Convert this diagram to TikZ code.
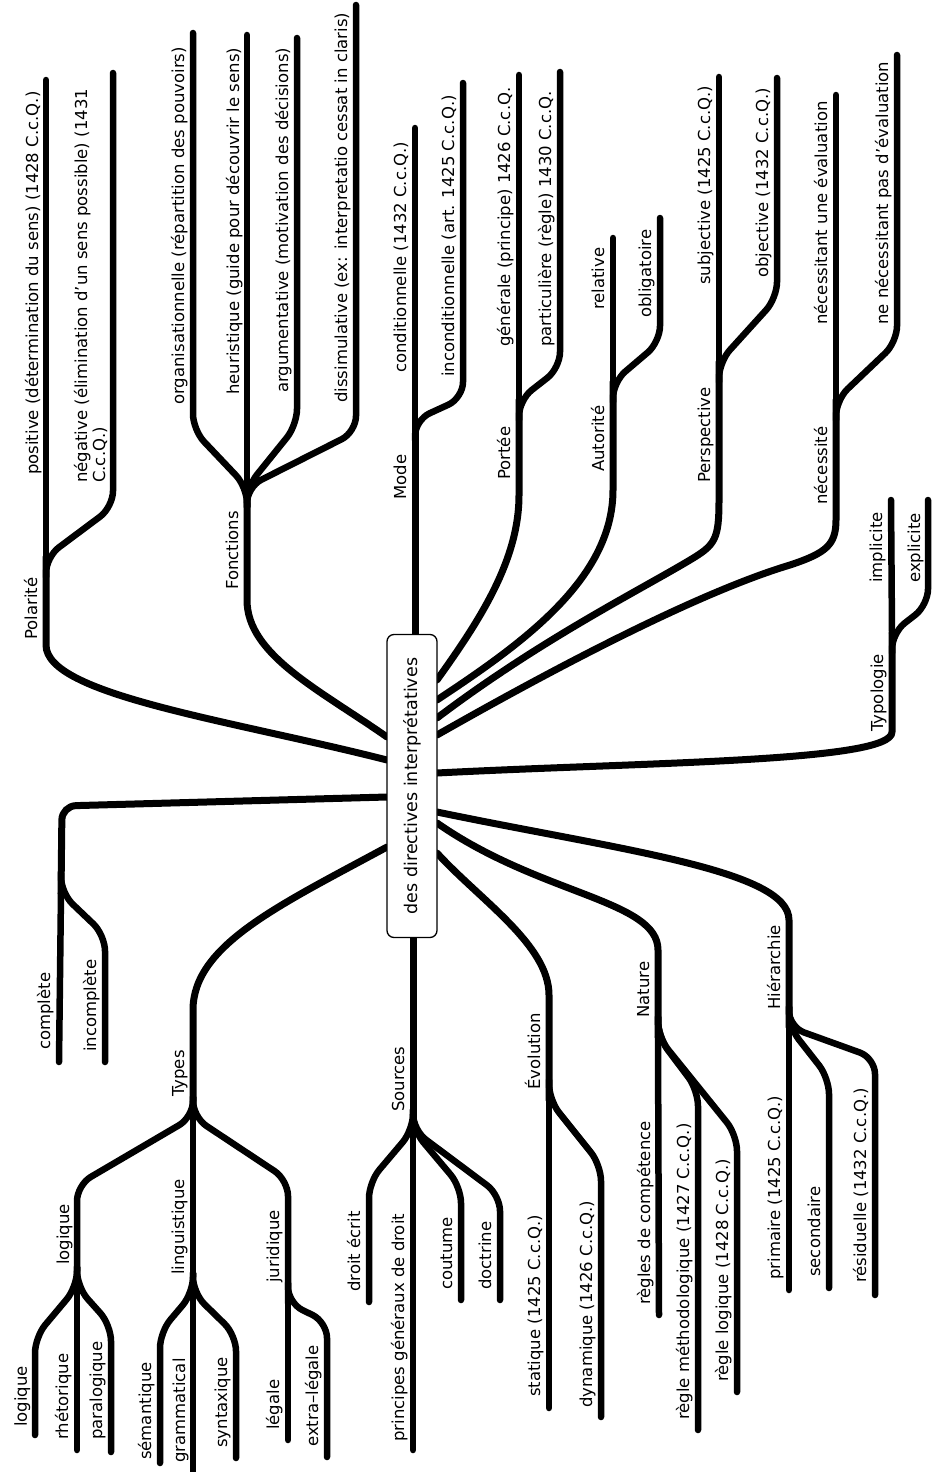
\documentclass[tikz,border=0pt]{standalone}
\usepackage{fontspec}
\setmainfont{DejaVu Sans}
\newcommand{\lblfont}{\fontsize{16.5}{19}\selectfont}
\newcommand{\ctrfont}{\fontsize{17.5}{20}\selectfont}
\begin{document}
\begin{tikzpicture}[x=1pt,y=-1pt,
  br/.style={line width=6.5pt, line cap=round, line join=round, rounded corners=16pt},
  mainbr/.style={line width=7pt, line cap=round, line join=round},
  lab/.style={rotate=90, anchor=base west, inner sep=0pt, font=\lblfont},
  ctr/.style={rotate=90, draw, line width=1.3pt, rounded corners=7pt, fill=white,
    minimum width=303pt, minimum height=50pt, inner sep=0pt, font=\ctrfont}]
\useasboundingbox (0,0) rectangle (933,1472);

% attachment points on the central box
\coordinate (aPol) at (387,760);
\coordinate (aFon) at (387,737);
\coordinate (aMod) at (415,637);
\coordinate (aPor) at (437,680);
\coordinate (aAut) at (437,700);
\coordinate (aPer) at (437,718);
\coordinate (aNec) at (437,735);
\coordinate (aTyp) at (437,773);
\coordinate (aCom) at (387,797);
\coordinate (aTps) at (387,847);
\coordinate (aSrc) at (413,936);
\coordinate (aEvo) at (437,853);
\coordinate (aNat) at (437,823);
\coordinate (aHie) at (437,812);

% branch points
\coordinate (bPol) at (46,557);
\coordinate (bFon) at (247,487);
\coordinate (bMod) at (415,420);
\coordinate (bPor) at (519,400);
\coordinate (bAut) at (613,382);
\coordinate (bPer) at (719,362);
\coordinate (bNec) at (836,400);
\coordinate (bTy) at (892,633);
\coordinate (bCom) at (61,893);
\coordinate (bTps) at (193,1117);
\coordinate (bLog) at (77,1287);
\coordinate (bLin) at (193,1293);
\coordinate (bJur) at (288,1303);
\coordinate (bSrc) at (413,1130);
\coordinate (bEvo) at (549,1100);
\coordinate (bNat) at (658,1037);
\coordinate (bHie) at (789,1027);

% leaf ends
\coordinate (ePos) at (46,80);
\coordinate (eNeg) at (113,73);
\coordinate (eOrg) at (193,33);
\coordinate (eHeu) at (247,35);
\coordinate (eArg) at (297,38);
\coordinate (eDis) at (356,5);
\coordinate (eCon) at (415,128);
\coordinate (eInc) at (463,83);
\coordinate (eGen) at (519,75);
\coordinate (ePar) at (560,72);
\coordinate (eRel) at (613,238);
\coordinate (eObl) at (660,218);
\coordinate (eSub) at (719,77);
\coordinate (eObj) at (777,78);
\coordinate (eNe1) at (836,95);
\coordinate (eNe2) at (897,55);
\coordinate (eImp) at (891,500);
\coordinate (eExp) at (928,500);
\coordinate (eCpl) at (59,1062);
\coordinate (eIcp) at (105,1062);
\coordinate (eLg1) at (35,1435);
\coordinate (eRhe) at (77,1450);
\coordinate (ePal) at (111,1452);
\coordinate (eSem) at (160,1463);
\coordinate (eGra) at (193,1480);
\coordinate (eSyn) at (236,1458);
\coordinate (eLeg) at (288,1440);
\coordinate (eExt) at (327,1457);
\coordinate (eDro) at (369,1302);
\coordinate (ePri) at (413,1450);
\coordinate (eCou) at (461,1300);
\coordinate (eDoc) at (500,1300);
\coordinate (eSta) at (549,1408);
\coordinate (eDyn) at (601,1417);
\coordinate (eRco) at (659,1315);
\coordinate (eRme) at (698,1430);
\coordinate (eRlo) at (737,1392);
\coordinate (ePrm) at (789,1290);
\coordinate (eSec) at (829,1288);
\coordinate (eRes) at (875,1295);

% Polarite
\draw[mainbr] (aPol) .. controls (230,720) and (46,695) .. (46,645) -- (bPol);
\draw[br] (bPol) -- (ePos);
\draw[br] (46,577) -- (bPol) -- (113,507) -- (eNeg);
% Fonctions
\draw[mainbr] (aFon) .. controls (320,690) and (247,655) .. (247,600) -- (bFon);
\draw[br] (bFon) -- (eHeu);
\draw[br] (247,507) -- (bFon) -- (193,430) -- (eOrg);
\draw[br] (247,507) -- (bFon) -- (297,425) -- (eArg);
\draw[br] (247,507) -- (bFon) -- (356,432) -- (eDis);
% Mode
\draw[mainbr] (aMod) -- (bMod);
\draw[br] (bMod) -- (eCon);
\draw[br] (415,440) -- (bMod) -- (463,398) -- (eInc);
% Portee
\draw[mainbr] (aPor) .. controls (480,620) and (519,560) .. (519,495) -- (bPor);
\draw[br] (bPor) -- (eGen);
\draw[br] (519,420) -- (bPor) -- (560,368) -- (ePar);
% Autorite
\draw[mainbr] (aAut) .. controls (520,645) and (613,580) .. (613,490) -- (bAut);
\draw[br] (bAut) -- (eRel);
\draw[br] (613,402) -- (bAut) -- (660,342) -- (eObl);
% Perspective
\draw[mainbr] (aPer) .. controls (540,640) and (640,590) .. (690,560) .. controls (715,545) and (719,540) .. (719,500) -- (bPer);
\draw[br] (bPer) -- (eSub);
\draw[br] (719,382) -- (bPer) -- (777,298) -- (eObj);
% necessite
\draw[mainbr] (aNec) .. controls (560,665) and (700,592) .. (790,565) .. controls (826,553) and (836,545) .. (836,520) -- (bNec);
\draw[br] (bNec) -- (eNe1);
\draw[br] (836,420) -- (bNec) -- (897,342) -- (eNe2);
% Typologie
\draw[mainbr] (aTyp) .. controls (650,762) and (892,762) .. (892,732) -- (bTy);
\draw[br] (bTy) -- (eImp);
\draw[br] (892,653) -- (bTy) -- (928,605) -- (eExp);
% complete / incomplete
\draw[mainbr, rounded corners=14pt] (aCom) -- (62,806) -- (bCom);
\draw[br] (bCom) -- (eCpl);
\draw[br] (61,873) -- (bCom) -- (105,935) -- (eIcp);
% Types
\draw[mainbr] (aTps) .. controls (280,905) and (193,945) .. (193,1010) -- (bTps);
\draw[br] (193,1097) -- (bTps) -- (77,1185) -- (bLog);
\draw[br] (bTps) -- (bLin);
\draw[br] (193,1097) -- (bTps) -- (288,1180) -- (bJur);
\draw[br] (77,1267) -- (bLog) -- (35,1337) -- (eLg1);
\draw[br] (bLog) -- (eRhe);
\draw[br] (77,1267) -- (bLog) -- (111,1325) -- (ePal);
\draw[br] (193,1273) -- (bLin) -- (160,1332) -- (eSem);
\draw[br] (bLin) -- (eGra);
\draw[br] (193,1273) -- (bLin) -- (236,1335) -- (eSyn);
\draw[br] (bJur) -- (eLeg);
\draw[br] (288,1283) -- (bJur) -- (327,1322) -- (eExt);
% Sources
\draw[mainbr] (aSrc) -- (bSrc);
\draw[br] (413,1110) -- (bSrc) -- (369,1182) -- (eDro);
\draw[br] (bSrc) -- (ePri);
\draw[br] (413,1110) -- (bSrc) -- (461,1187) -- (eCou);
\draw[br] (413,1110) -- (bSrc) -- (500,1195) -- (eDoc);
% Evolution
\draw[mainbr] (aEvo) .. controls (480,900) and (549,945) .. (549,995) -- (bEvo);
\draw[br] (bEvo) -- (eSta);
\draw[br] (549,1080) -- (bEvo) -- (601,1165) -- (eDyn);
% Nature
\draw[mainbr] (aNat) .. controls (540,895) and (658,900) .. (658,950) -- (bNat);
\draw[br] (bNat) -- (eRco);
\draw[br] (658,1017) -- (bNat) -- (698,1090) -- (eRme);
\draw[br] (658,1017) -- (bNat) -- (737,1135) -- (eRlo);
% Hierarchie
\draw[mainbr] (aHie) .. controls (620,850) and (789,870) .. (789,920) -- (bHie);
\draw[br] (bHie) -- (ePrm);
\draw[br] (789,1007) -- (bHie) -- (829,1078) -- (eSec);
\draw[br] (789,1007) -- (bHie) -- (875,1058) -- (eRes);

% central node
\node[ctr] (c) at (412,786) {des directives interprétatives};

% labels
\node[lab] (lPol) at (37,640) {Polarité};
\node[lab] (lPos) at (38,475) {positive (détermination du sens) (1428 C.c.Q.)};
\node[lab] (lNeg1) at (87,483) {négative (élimination d'un sens possible) (1431};
\node[lab] (lNeg2) at (105,483) {C.c.Q.)};
\node[lab] (lFon) at (238,590) {Fonctions};
\node[lab] (lOrg) at (184,405) {organisationnelle (répartition des pouvoirs)};
\node[lab] (lHeu) at (239,395) {heuristique (guide pour découvrir le sens)};
\node[lab] (lArg) at (288,393) {argumentative (motivation des décisions)};
\node[lab] (lDis) at (347,403) {dissimulative (ex: interpretatio cessat in claris)};
\node[lab] (lMod) at (406,500) {Mode};
\node[lab] (lCon) at (406,373) {conditionnelle (1432 C.c.Q.)};
\node[lab] (lInc) at (454,377) {inconditionnelle (art. 1425 C.c.Q.)};
\node[lab] (lPor) at (510,480) {Portée};
\node[lab] (lGen) at (510,347) {générale (principe) 1426 C.c.Q.};
\node[lab] (lPar) at (551,347) {particulière (règle) 1430 C.c.Q.};
\node[lab] (lAut) at (604,472) {Autorité};
\node[lab] (lRel) at (604,310) {relative};
\node[lab] (lObl) at (651,318) {obligatoire};
\node[lab] (lPer) at (710,483) {Perspective};
\node[lab] (lSub) at (710,285) {subjective (1425 C.c.Q.)};
\node[lab] (lObj) at (768,278) {objective (1432 C.c.Q.)};
\node[lab] (lNec) at (827,505) {nécessité};
\node[lab] (lNe1) at (827,325) {nécessitant une évaluation};
\node[lab] (lNe2) at (888,325) {ne nécessitant pas d'évaluation};
\node[lab] (lTyp) at (883,732) {Typologie};
\node[lab] (lImp) at (882,583) {implicite};
\node[lab] (lExp) at (920,583) {explicite};
\node[lab] (lCpl) at (50,1050) {complète};
\node[lab] (lIcp) at (96,1052) {incomplète};
\node[lab] (lTps) at (184,1097) {Types};
\node[lab] (lLog) at (69,1265) {logique};
\node[lab] (lLg1) at (27,1427) {logique};
\node[lab] (lRhe) at (68,1440) {rhétorique};
\node[lab] (lPal) at (102,1440) {paralogique};
\node[lab] (lLin) at (184,1275) {linguistique};
\node[lab] (lSem) at (151,1460) {sémantique};
\node[lab] (lGra) at (185,1463) {grammatical};
\node[lab] (lSyn) at (227,1448) {syntaxique};
\node[lab] (lJur) at (279,1283) {juridique};
\node[lab] (lLeg) at (279,1430) {légale};
\node[lab] (lExt) at (318,1447) {extra–légale};
\node[lab] (lSrc) at (404,1112) {Sources};
\node[lab] (lDro) at (360,1292) {droit écrit};
\node[lab] (lPri) at (404,1442) {principes généraux de droit};
\node[lab] (lCou) at (452,1290) {coutume};
\node[lab] (lDoc) at (491,1290) {doctrine};
\node[lab] (lEvo) at (540,1090) {Évolution};
\node[lab] (lSta) at (540,1397) {statique (1425 C.c.Q.)};
\node[lab] (lDyn) at (592,1408) {dynamique (1426 C.c.Q.)};
\node[lab] (lNat) at (649,1018) {Nature};
\node[lab] (lRco) at (650,1305) {règles de compétence};
\node[lab] (lRme) at (689,1420) {règle méthodologique (1427 C.c.Q.)};
\node[lab] (lRlo) at (728,1382) {règle logique (1428 C.c.Q.)};
\node[lab] (lHie) at (780,1010) {Hiérarchie};
\node[lab] (lPrm) at (780,1280) {primaire (1425 C.c.Q.)};
\node[lab] (lSec) at (820,1277) {secondaire};
\node[lab] (lRes) at (866,1283) {résiduelle (1432 C.c.Q.)};
\end{tikzpicture}
\end{document}
